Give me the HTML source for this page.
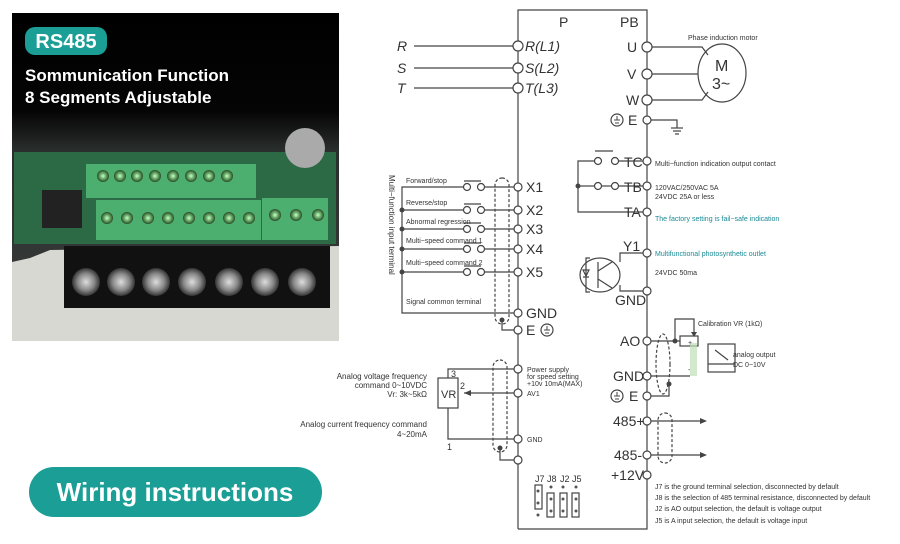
<!DOCTYPE html>
<html><head><meta charset="utf-8"><style>
html,body{margin:0;padding:0;background:#fff;}
svg{display:block;font-family:"Liberation Sans",sans-serif;}
</style></head><body>
<svg width="900" height="544" viewBox="0 0 900 544" xmlns="http://www.w3.org/2000/svg">
<defs>
<linearGradient id="bg" x1="0" y1="0" x2="0" y2="1">
<stop offset="0" stop-color="#000"/><stop offset="0.3" stop-color="#050505"/><stop offset="0.42" stop-color="#2a2e2c"/><stop offset="1" stop-color="#3a3d3b"/>
</linearGradient>
<radialGradient id="scr"><stop offset="0" stop-color="#ddd"/><stop offset="0.6" stop-color="#888"/><stop offset="1" stop-color="#333"/></radialGradient>
<radialGradient id="gscr"><stop offset="0" stop-color="#cfc"/><stop offset="0.5" stop-color="#6a6"/><stop offset="1" stop-color="#2a4a2a"/></radialGradient>
</defs>
<!-- Photo -->
<rect x="12" y="13" width="327" height="328" fill="url(#bg)"/>
<rect x="14" y="152" width="322" height="92" fill="#2c6a45"/>
<rect x="86" y="164" width="170" height="34" fill="#4caf6f"/>
<rect x="96" y="200" width="165" height="40" fill="#4caf6f"/>
<rect x="262" y="198" width="66" height="42" fill="#4caf6f"/>
<rect x="42" y="190" width="40" height="38" fill="#222"/>
<g fill="url(#gscr)">
<circle cx="103" cy="176" r="6"/><circle cx="120" cy="176" r="6"/><circle cx="137" cy="176" r="6"/><circle cx="155" cy="176" r="6"/><circle cx="173" cy="176" r="6"/><circle cx="191" cy="176" r="6"/><circle cx="209" cy="176" r="6"/><circle cx="227" cy="176" r="6"/>
<circle cx="107" cy="218" r="6"/><circle cx="127" cy="218" r="6"/><circle cx="148" cy="218" r="6"/><circle cx="168" cy="218" r="6"/><circle cx="189" cy="218" r="6"/><circle cx="209" cy="218" r="6"/><circle cx="229" cy="218" r="6"/><circle cx="249" cy="218" r="6"/>
<circle cx="275" cy="215" r="6"/><circle cx="296" cy="215" r="6"/><circle cx="318" cy="215" r="6"/>
</g>
<circle cx="305" cy="148" r="20" fill="#aaa"/>
<path d="M12 262 L30 258 L50 250 L339 246 L339 341 L12 341 Z" fill="#d8d8d2"/>
<rect x="64" y="246" width="266" height="62" fill="#111"/>
<g fill="url(#scr)">
<circle cx="86" cy="282" r="14"/><circle cx="121" cy="282" r="14"/><circle cx="156" cy="282" r="14"/><circle cx="192" cy="282" r="14"/><circle cx="229" cy="282" r="14"/><circle cx="265" cy="282" r="14"/><circle cx="302" cy="282" r="14"/>
</g>
<rect x="25" y="27" width="82" height="28" rx="10" fill="#1a9e96"/>
<text x="66" y="48" font-size="20" font-weight="bold" fill="#fff" text-anchor="middle">RS485</text>
<text x="25" y="81" font-size="17" font-weight="bold" fill="#fff">Sommunication Function</text>
<text x="25" y="103" font-size="17" font-weight="bold" fill="#fff">8 Segments Adjustable</text>
<!-- Pill -->
<rect x="29" y="467" width="293" height="50" rx="25" fill="#1a9e96"/>
<text x="175" y="501" font-size="26" font-weight="bold" fill="#fff" text-anchor="middle">Wiring instructions</text>

<!-- Diagram -->
<g stroke="#444" fill="none" stroke-width="1.2">
<polyline points="518,529 518,10 647,10 647,529 518,529"/>
<line x1="414" y1="46" x2="514" y2="46"/><line x1="414" y1="68" x2="514" y2="68"/><line x1="414" y1="88" x2="514" y2="88"/>
<polyline points="651,47 702,47 708,55"/><line x1="651" y1="74" x2="698" y2="74"/><polyline points="651,100 702,100 708,92"/>
<ellipse cx="722" cy="73" rx="24" ry="29"/>
<polyline points="651,120 677,120 677,128"/>
<line x1="671" y1="128" x2="683" y2="128"/><line x1="673" y1="131" x2="681" y2="131"/><line x1="675" y1="134" x2="679" y2="134"/>
<circle cx="617" cy="120" r="6"/>
<polyline points="595,161 578,161 578,212 643,212"/>
<line x1="578" y1="186" x2="594" y2="186"/><line x1="602" y1="186" x2="611" y2="186"/><line x1="619" y1="186" x2="643" y2="186"/>
<line x1="619" y1="161" x2="643" y2="161"/>
<line x1="595" y1="151" x2="613" y2="151"/>
<circle cx="598" cy="161" r="3.5"/><circle cx="615" cy="161" r="3.5"/><circle cx="598" cy="186" r="3.5"/><circle cx="615" cy="186" r="3.5"/>
<polyline points="643,253 620,253 620,262"/><polyline points="643,291 620,291 620,285"/>
<ellipse cx="600" cy="275" rx="20" ry="17"/>
<line x1="598" y1="262" x2="598" y2="288"/><line x1="598" y1="271" x2="612" y2="262"/><line x1="598" y1="279" x2="612" y2="288"/>
<polyline points="590,258 586,258 586,292 590,292"/>
<path d="M583 270 L589 270 L586 276 Z M583 277 L589 277"/>
<polyline points="651,341 680,341"/><polyline points="675,341 675,319 694,319 694,334"/>
<rect x="680" y="336" width="18" height="10"/>
<rect x="708" y="344" width="27" height="28"/><line x1="708" y1="364" x2="735" y2="364"/>
<line x1="715" y1="350" x2="728" y2="360"/>
<line x1="651" y1="376" x2="690" y2="376"/>
<ellipse cx="663" cy="364" rx="7" ry="30" stroke-dasharray="3,2"/>
<polyline points="651,396 669,396 669,384"/>
<circle cx="617" cy="396" r="6"/>
<line x1="651" y1="421" x2="700" y2="421"/><line x1="651" y1="455" x2="700" y2="455"/>
<rect x="658" y="413" width="14" height="50" rx="7" stroke-dasharray="3,2"/>
<polyline points="514,187 485,187"/><polyline points="464,187 402,187 402,313 514,313"/>
<line x1="514" y1="210" x2="485" y2="210"/><line x1="464" y1="210" x2="402" y2="210"/>
<line x1="514" y1="229" x2="485" y2="229"/><line x1="464" y1="229" x2="402" y2="229"/>
<line x1="514" y1="249" x2="485" y2="249"/><line x1="464" y1="249" x2="402" y2="249"/>
<line x1="514" y1="272" x2="485" y2="272"/><line x1="464" y1="272" x2="402" y2="272"/>
<line x1="464" y1="181" x2="481" y2="181"/><line x1="464" y1="204" x2="481" y2="204"/><line x1="464" y1="223" x2="481" y2="223"/><line x1="464" y1="243" x2="481" y2="243"/><line x1="464" y1="266" x2="481" y2="266"/>
<circle cx="467" cy="187" r="3.5"/><circle cx="481" cy="187" r="3.5"/>
<circle cx="467" cy="210" r="3.5"/><circle cx="481" cy="210" r="3.5"/>
<circle cx="467" cy="229" r="3.5"/><circle cx="481" cy="229" r="3.5"/>
<circle cx="467" cy="249" r="3.5"/><circle cx="481" cy="249" r="3.5"/>
<circle cx="467" cy="272" r="3.5"/><circle cx="481" cy="272" r="3.5"/>
<rect x="495" y="178" width="14" height="146" rx="7" stroke-dasharray="3,2"/>
<polyline points="502,320 502,330 514,330"/>
<circle cx="547" cy="330" r="6"/>
<polyline points="514,369 448,369 448,378"/>
<rect x="438" y="378" width="20" height="30"/>
<line x1="514" y1="393" x2="464" y2="393"/>
<polyline points="448,408 448,439 514,439"/>
<rect x="493" y="360" width="14" height="92" rx="7" stroke-dasharray="3,2"/>
<polyline points="500,448 500,460 514,460"/>
<rect x="535" y="485" width="7" height="24"/><rect x="547" y="493" width="7" height="24"/><rect x="560" y="493" width="7" height="24"/><rect x="572" y="493" width="7" height="24"/>
</g>
<g stroke="#444" stroke-width="1"><line x1="614" y1="120" x2="620" y2="120"/><line x1="615" y1="123" x2="619" y2="123"/><line x1="617" y1="116" x2="617" y2="120"/>
<line x1="614" y1="396" x2="620" y2="396"/><line x1="615" y1="399" x2="619" y2="399"/><line x1="617" y1="392" x2="617" y2="396"/>
<line x1="544" y1="330" x2="550" y2="330"/><line x1="545" y1="333" x2="549" y2="333"/><line x1="547" y1="326" x2="547" y2="330"/></g>
<rect x="690" y="343" width="7" height="33" fill="#bfe0b8" opacity="0.7"/>
<g fill="#fff" stroke="#444" stroke-width="1.2">
<circle cx="518" cy="46" r="5"/><circle cx="518" cy="68" r="5"/><circle cx="518" cy="88" r="5"/>
<circle cx="647" cy="47" r="5"/><circle cx="647" cy="74" r="5"/><circle cx="647" cy="100" r="5"/><circle cx="647" cy="120" r="4"/>
<circle cx="647" cy="161" r="4"/><circle cx="647" cy="186" r="4"/><circle cx="647" cy="212" r="4"/><circle cx="647" cy="253" r="4"/><circle cx="647" cy="291" r="4"/>
<circle cx="647" cy="341" r="4"/><circle cx="647" cy="376" r="4"/><circle cx="647" cy="396" r="4"/><circle cx="647" cy="421" r="4"/><circle cx="647" cy="455" r="4"/><circle cx="647" cy="475" r="4"/>
<circle cx="518" cy="187" r="4"/><circle cx="518" cy="210" r="4"/><circle cx="518" cy="229" r="4"/><circle cx="518" cy="249" r="4"/><circle cx="518" cy="272" r="4"/><circle cx="518" cy="313" r="4"/><circle cx="518" cy="330" r="4"/>
<circle cx="518" cy="369" r="4"/><circle cx="518" cy="393" r="4"/><circle cx="518" cy="439" r="4"/><circle cx="518" cy="460" r="4"/>
</g>
<g fill="#444">
<circle cx="578" cy="186" r="2.5"/><circle cx="402" cy="210" r="2.5"/><circle cx="402" cy="229" r="2.5"/><circle cx="402" cy="249" r="2.5"/><circle cx="402" cy="272" r="2.5"/>
<circle cx="502" cy="320" r="2.5"/><circle cx="675" cy="341" r="2.5"/><circle cx="669" cy="384" r="2.5"/><circle cx="500" cy="448" r="2.5"/>
<path d="M464 393 L471 390 L471 396 Z"/><path d="M700 418 L707 421 L700 424 Z"/><path d="M700 452 L707 455 L700 458 Z"/><path d="M691 332 L697 332 L694 337 Z"/>
</g>
<g fill="#555"><circle cx="538" cy="491" r="1.5"/><circle cx="538" cy="503" r="1.5"/><circle cx="538" cy="515" r="1.5"/><circle cx="551" cy="487" r="1.5"/><circle cx="551" cy="499" r="1.5"/><circle cx="551" cy="511" r="1.5"/><circle cx="563" cy="487" r="1.5"/><circle cx="563" cy="499" r="1.5"/><circle cx="563" cy="511" r="1.5"/><circle cx="576" cy="487" r="1.5"/><circle cx="576" cy="499" r="1.5"/><circle cx="576" cy="511" r="1.5"/></g>
<g fill="#333" font-size="14">
<text x="397" y="51" font-style="italic">R</text><text x="397" y="73" font-style="italic">S</text><text x="397" y="93" font-style="italic">T</text>
<text x="525" y="51" font-style="italic">R(L1)</text><text x="525" y="73" font-style="italic">S(L2)</text><text x="525" y="93" font-style="italic">T(L3)</text>
<text x="559" y="27">P</text><text x="620" y="27">PB</text>
<text x="627" y="52">U</text><text x="627" y="79">V</text><text x="626" y="105">W</text><text x="628" y="125">E</text>
<text x="715" y="71" font-size="16">M</text><text x="712" y="89" font-size="16">3~</text>
<text x="624" y="167">TC</text><text x="624" y="192">TB</text><text x="624" y="217">TA</text><text x="623" y="251">Y1</text><text x="615" y="305">GND</text>
<text x="620" y="346">AO</text><text x="613" y="381">GND</text><text x="629" y="401">E</text>
<text x="613" y="426">485+</text><text x="614" y="460">485-</text><text x="611" y="480">+12V</text>
<text x="526" y="192">X1</text><text x="526" y="215">X2</text><text x="526" y="234">X3</text><text x="526" y="254">X4</text><text x="526" y="277">X5</text>
<text x="526" y="318">GND</text><text x="526" y="335">E</text>
<text x="441" y="398" font-size="11">VR</text>
</g>
<g fill="#333" font-size="7">
<text x="688" y="40">Phase induction motor</text>
<text x="655" y="166">Multi−function indication output contact</text>
<text x="655" y="190">120VAC/250VAC 5A</text><text x="655" y="199">24VDC 25A or less</text>
<text x="655" y="221" fill="#1a8a96">The factory setting is fail−safe indication</text>
<text x="655" y="256" fill="#1a8a96">Multifunctional photosynthetic outlet</text>
<text x="655" y="275">24VDC 50ma</text>
<text x="698" y="326">Calibration VR (1kΩ)</text>
<text x="733" y="357">analog output</text><text x="733" y="367">DC 0~10V</text>
<text x="406" y="183">Forward/stop</text><text x="406" y="205">Reverse/stop</text><text x="406" y="224">Abnormal regression</text><text x="406" y="243">Multi−speed command 1</text><text x="406" y="265">Multi−speed command 2</text>
<text x="406" y="304">Signal common terminal</text>
<text x="527" y="372">Power supply</text><text x="527" y="379">for speed setting</text><text x="527" y="386">+10v 10mA(MAX)</text>
<text x="527" y="396">AV1</text><text x="527" y="442">GND</text>
<text x="655" y="489">J7 is the ground terminal selection, disconnected by default</text>
<text x="655" y="500">J8 is the selection of 485 terminal resistance, disconnected by default</text>
<text x="655" y="511">J2 is AO output selection, the default is voltage output</text>
<text x="655" y="523">J5 is A input selection, the default is voltage input</text>
<text x="389" y="175" transform="rotate(90 389 175)" font-size="8">Multi−function input terminal</text>
</g>
<g fill="#333" font-size="8" text-anchor="end">
<text x="427" y="379">Analog voltage frequency</text><text x="427" y="388">command 0~10VDC</text><text x="427" y="397">Vr: 3k~5kΩ</text>
<text x="427" y="427">Analog current frequency command</text><text x="427" y="437">4~20mA</text>
</g>
<g fill="#333" font-size="9"><text x="451" y="377">3</text><text x="460" y="389">2</text><text x="447" y="450">1</text>
<text x="535" y="482">J7</text><text x="547" y="482">J8</text><text x="560" y="482">J2</text><text x="572" y="482">J5</text></g>
<text x="688" y="345" fill="#333" font-size="7">+</text><text x="688" y="372" fill="#333" font-size="7">-</text>
</svg>
</body></html>
